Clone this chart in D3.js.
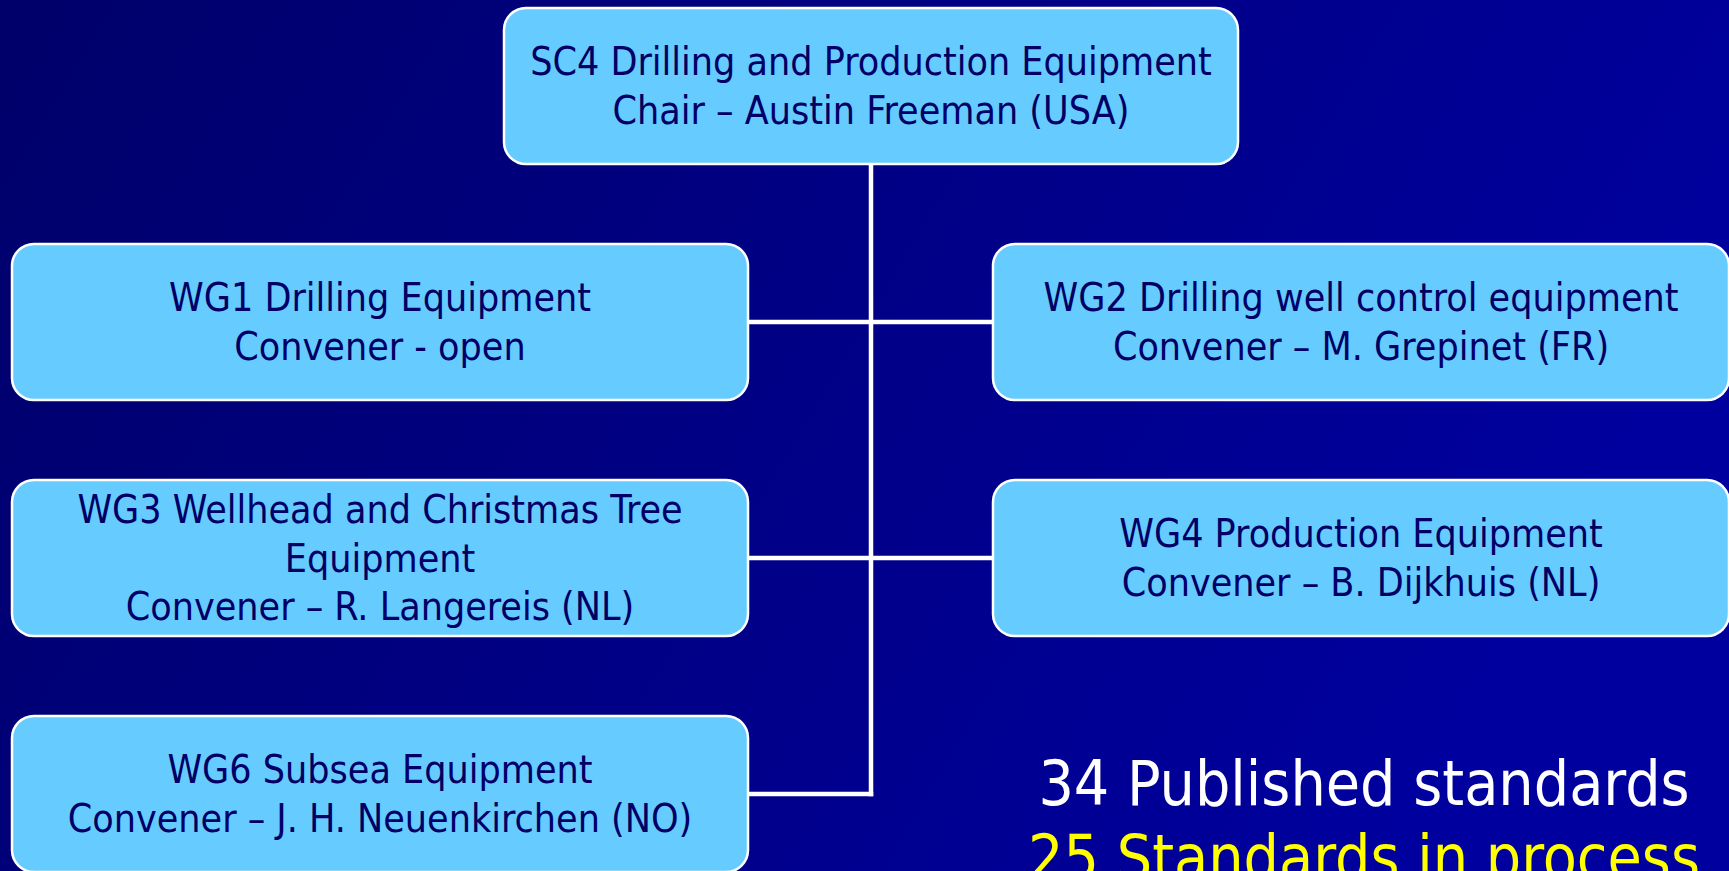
<!DOCTYPE html>
<html><head><meta charset="utf-8">
<script src="https://cdn.jsdelivr.net/npm/d3@7"></script>
<style>html,body{margin:0;padding:0;overflow:hidden;background:#000080}</style>
</head><body>
<svg id="chart" width="1729" height="871"></svg>
<script>
const topBox = ["SC4 Drilling and Production Equipment", "Chair – Austin Freeman (USA)"];
const leftBoxes = [
  ["WG1 Drilling Equipment", "Convener - open"],
  ["WG3 Wellhead and Christmas Tree", "Equipment", "Convener – R. Langereis (NL)"],
  ["WG6 Subsea Equipment", "Convener – J. H. Neuenkirchen (NO)"]
];
const rightBoxes = [
  ["WG2 Drilling well control equipment", "Convener – M. Grepinet (FR)"],
  ["WG4 Production Equipment", "Convener – B. Dijkhuis (NL)"]
];
const summaryLines = ["34 Published standards", "25 Standards in process"];

const W = 1729, H = 871;
const svg = d3.select("#chart");
const defs = svg.append("defs");
const grad = defs.append("linearGradient").attr("id","bg").attr("x1","0").attr("y1","0").attr("x2","1").attr("y2","0.3");
grad.append("stop").attr("offset","0").attr("stop-color","#00006a");
grad.append("stop").attr("offset","1").attr("stop-color","#00009e");
svg.append("rect").attr("width",W).attr("height",H).attr("fill","url(#bg)");

const boxW = 736, boxH = 156;
const colX = d3.scaleOrdinal().domain(["left","right"]).range([12, 993]);
const rowY = d3.scaleLinear().domain([0, 2]).range([244, 716]);
const topX = 504, topY = 8, topW = 734;
const trunkX = topX + topW / 2;
const lineH = 48.5;
const fontSize = 39;
const sx = 1.0;
const font = "Tahoma, 'DejaVu Sans Condensed', 'DejaVu Sans', sans-serif";

function cy(i){ return rowY(i) + boxH/2; }

// connectors
const conn = svg.append("g").attr("stroke","#ffffff").attr("stroke-width",4.5).attr("fill","none");
conn.append("line").attr("x1",trunkX).attr("x2",trunkX).attr("y1",topY+boxH).attr("y2",cy(2)+2.25);
leftBoxes.forEach((b,i)=>{
  const x2 = rightBoxes[i] ? colX("right") : trunkX + 2.25;
  conn.append("line").attr("x1",colX("left")+boxW).attr("x2",x2).attr("y1",cy(i)).attr("y2",cy(i));
});

function drawBox(x, y, w, h, lines){
  const g = svg.append("g");
  g.append("rect").attr("x",x).attr("y",y).attr("width",w).attr("height",h)
    .attr("rx",22).attr("ry",22).attr("fill","#66ccff").attr("stroke","#ffffff").attr("stroke-width",2.5);
  const c = x + w/2, m = y + h/2;
  lines.forEach((t,k)=>{
    const ty = m + (k - (lines.length-1)/2)*lineH;
    g.append("text").attr("transform",`translate(${c},${ty}) scale(${sx},1)`)
      .attr("text-anchor","middle").attr("dominant-baseline","central")
      .attr("font-family",font).attr("font-size",fontSize).attr("fill","#000066").text(t);
  });
}
drawBox(topX, topY, topW, boxH, topBox);
leftBoxes.forEach((b,i)=>drawBox(colX("left"), rowY(i), boxW, boxH, b));
rightBoxes.forEach((b,i)=>drawBox(colX("right"), rowY(i), boxW, boxH, b));

const sumColors = ["#ffffff","#ffff00"];
summaryLines.forEach((t,k)=>{
  svg.append("text").attr("transform",`translate(1364,${805 + k*74}) scale(${sx},1)`)
    .attr("text-anchor","middle").attr("font-family",font).attr("font-size",62)
    .attr("fill",sumColors[k]).text(t);
});
</script>
</body></html>
